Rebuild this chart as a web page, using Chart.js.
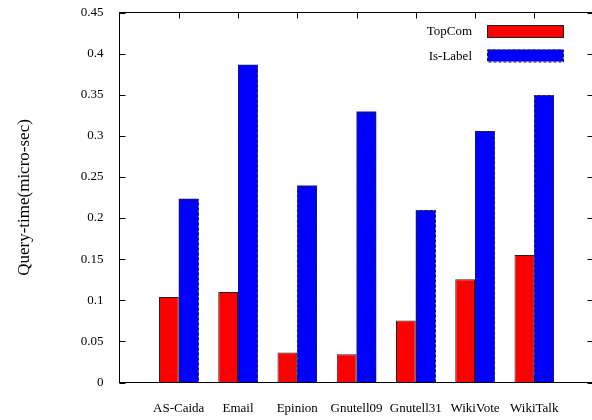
<!DOCTYPE html>
<html>
<head>
<meta charset="utf-8">
<script src="https://cdn.jsdelivr.net/npm/chart.js@4.4.1/dist/chart.umd.min.js"></script>
<style>
	html, body { margin: 0; padding: 0; background: #fff; overflow: hidden; }
	#wrap { width: 600px; height: 420px; }
</style>
</head>
<body>
<div id="wrap"><canvas id="graph_query" width="600" height="420"></canvas></div>
<script>
var categories = ["AS-Caida", "Email", "Epinion", "Gnutell09", "Gnutell31", "WikiVote", "WikiTalk"];
var topcom_values = [0.104, 0.110, 0.0365, 0.0345, 0.0755, 0.1255, 0.155];
var islabel_values = [0.2235, 0.3865, 0.2395, 0.3295, 0.2095, 0.306, 0.3495];
var series_names = ["TopCom", "Is-Label"];
var y_min = 0;
var y_max = 0.45;
var y_step = 0.05;
var y_title = "Query-time(micro-sec)";

var serif = "'Liberation Serif', 'Times New Roman', serif";

// empty slot on each side of the bars, like the original x range
var labels = [""].concat(categories, [""]);
function pad(arr){
	return [null].concat(arr, [null]);
}

var framePlugin = {
	id: 'frame',
	beforeDatasetsDraw: function(chart){
		var ctx = chart.ctx;
		var a = chart.chartArea;
		var xs = chart.scales.x, ys = chart.scales.y;
		ctx.save();
		ctx.strokeStyle = '#000';
		ctx.lineWidth = 1;
		ctx.beginPath();
		//inward ticks on every side
		for(var v = y_min; v <= y_max + 1e-9; v += y_step){
			var py = Math.round(ys.getPixelForValue(v)) + 0.5;
			ctx.moveTo(a.left, py); ctx.lineTo(a.left + 6, py);
			ctx.moveTo(a.right, py); ctx.lineTo(a.right - 6, py);
		}
		for(var i = 1; i <= categories.length; i++){
			var px = Math.round(xs.getPixelForValue(i)) + 0.5;
			ctx.moveTo(px, a.top); ctx.lineTo(px, a.top + 6);
			ctx.moveTo(px, a.bottom); ctx.lineTo(px, a.bottom - 6);
		}
		ctx.stroke();
		ctx.restore();
	},
	afterDatasetsDraw: function(chart){
		var ctx = chart.ctx;
		var a = chart.chartArea;
		ctx.save();
		//dashed outline of the Is-Label bars
		var meta = chart.getDatasetMeta(1);
		ctx.strokeStyle = '#222';
		ctx.lineWidth = 1;
		ctx.setLineDash([3, 2]);
		meta.data.forEach(function(bar, idx){
			if(chart.data.datasets[1].data[idx] == null) return;
			var p = bar.getProps(['x', 'y', 'base', 'width'], true);
			var l = Math.round(p.x - p.width / 2) + 0.5;
			var r = Math.round(p.x + p.width / 2) - 0.5;
			var t = Math.round(p.y) + 0.5;
			ctx.beginPath();
			ctx.moveTo(l, p.base); ctx.lineTo(l, t); ctx.lineTo(r, t); ctx.lineTo(r, p.base);
			ctx.stroke();
		});
		ctx.setLineDash([]);
		ctx.strokeStyle = '#000';
		ctx.strokeRect(a.left, a.top, a.right - a.left, a.bottom - a.top);
		ctx.restore();
	},
	afterDraw: function(chart){
		var ctx = chart.ctx;
		var ds = chart.data.datasets;
		ctx.save();
		ctx.font = '13px ' + serif;
		ctx.fillStyle = '#000';
		ctx.textAlign = 'right';
		ctx.textBaseline = 'middle';
		for(var i = 0; i < ds.length; i++){
			var cy = 31 + i * 24.5;
			ctx.fillText(ds[i].label, 472, cy + 1);
			ctx.fillStyle = ds[i].backgroundColor;
			ctx.fillRect(487.5, cy - 6, 76, 12);
			ctx.strokeStyle = '#222';
			ctx.lineWidth = 1;
			ctx.setLineDash(i == 1 ? [3, 2] : []);
			ctx.strokeRect(487.5, cy - 6 + 0.5, 76, 12);
			ctx.setLineDash([]);
			ctx.fillStyle = '#000';
		}
		ctx.restore();
	}
};

var graph_query_config = {
	type: 'bar',
	data: {
		labels: labels,
		datasets: [{
			label: series_names[0],
			data: pad(topcom_values),
			backgroundColor: '#ff0000',
			borderColor: '#222',
			borderWidth: 1
		},{
			label: series_names[1],
			data: pad(islabel_values),
			backgroundColor: '#0000ff',
			borderWidth: 0
		}]
	},
	options: {
		animation: false,
		responsive: false,
		maintainAspectRatio: false,
		categoryPercentage: 2 / 3,
		barPercentage: 1,
		layout: {
			padding: { left: 0, top: 12.5, right: 6.5, bottom: 0 }
		},
		scales: {
			x: {
				type: 'category',
				offset: false,
				grid: { display: false, drawTicks: false },
				border: { display: false },
				ticks: {
					font: { family: serif, size: 13 },
					color: '#000',
					padding: 18,
					autoSkip: false,
					maxRotation: 0
				},
				afterFit: function(scale){
					//fixed box, no extra label padding
					scale.height = 37.5;
					scale.paddingLeft = 0;
					scale.paddingRight = 0;
				}
			},
			y: {
				min: y_min,
				max: y_max,
				grid: { display: false, drawTicks: false },
				border: { display: false },
				ticks: {
					stepSize: y_step,
					font: { family: serif, size: 13 },
					color: '#000',
					padding: 16,
					callback: function(value){
						return String(parseFloat(value.toFixed(2)));
					}
				},
				title: {
					display: true,
					text: y_title,
					color: '#000',
					font: { family: serif, size: 17 },
					padding: { top: 14, bottom: 0 }
				},
				afterFit: function(scale){
					scale.width = 119.5;
					scale.paddingTop = 0;
					scale.paddingBottom = 0;
				}
			}
		},
		plugins: {
			legend: { display: false },
			tooltip: { enabled: false }
		}
	},
	plugins: [framePlugin]
};

document.addEventListener("DOMContentLoaded", function(){
	new Chart(document.getElementById("graph_query").getContext('2d'), graph_query_config);
});
</script>
</body>
</html>
